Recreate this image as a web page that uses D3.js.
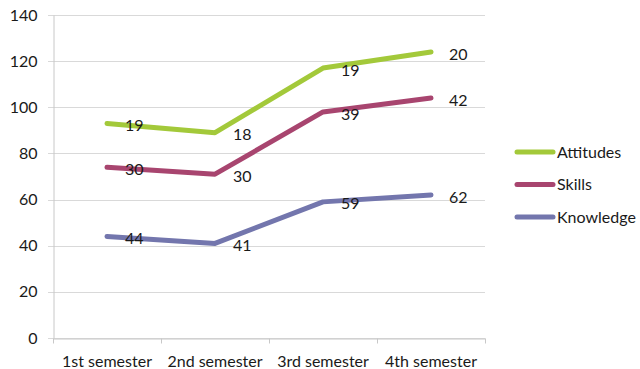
<!DOCTYPE html>
<html>
<head>
<meta charset="utf-8">
<script src="https://cdn.jsdelivr.net/npm/d3@7"></script>
<style>
  html, body { margin: 0; padding: 0; background: #fff; }
  svg { display: block; font-family: Lato, "Open Sans", sans-serif; }
</style>
</head>
<body>
<svg id="chart" width="640" height="369"></svg>
<script>
// Semesters along the x axis
const semesters = ["1st semester", "2nd semester", "3rd semester", "4th semester"];
// Series values per semester (stacked bottom to top: Knowledge, Skills, Attitudes)
const knowledge = [44, 41, 59, 62];
const skills = [30, 30, 39, 42];
const attitudes = [19, 18, 19, 20];
// Y axis ticks
const yTicks = [0, 20, 40, 60, 80, 100, 120, 140];

const seriesNames = ["Knowledge", "Skills", "Attitudes"];
const seriesColors = { Knowledge: "#7376ad", Skills: "#a8456f", Attitudes: "#a3c93a" };
const legendOrder = ["Attitudes", "Skills", "Knowledge"];

const rows = semesters.map((s, i) => ({
  semester: s,
  Knowledge: knowledge[i],
  Skills: skills[i],
  Attitudes: attitudes[i]
}));

const stacked = d3.stack().keys(seriesNames)(rows);

const svg = d3.select("#chart");
const plot = { left: 53, right: 485, top: 15, bottom: 338 };

const x = d3.scaleBand().domain(semesters).range([plot.left, plot.right]).padding(0);
const y = d3.scaleLinear().domain([0, 140]).range([plot.bottom, plot.top]);
const cx = s => x(s) + x.bandwidth() / 2;

// Horizontal gridlines
svg.append("g")
  .selectAll("line")
  .data(yTicks)
  .join("line")
  .attr("x1", plot.left - 5)
  .attr("x2", plot.right)
  .attr("y1", d => Math.round(y(d)) + 0.5)
  .attr("y2", d => Math.round(y(d)) + 0.5)
  .attr("stroke", "#d9d9d9")
  .attr("stroke-width", 1);

// Y axis
const yAxis = svg.append("g")
  .attr("transform", `translate(${plot.left + 0.5},0)`)
  .call(d3.axisLeft(y).tickValues(yTicks).tickSize(0).tickPadding(16));
yAxis.select(".domain").attr("stroke", "#c8c8c8");
yAxis.selectAll("text").attr("font-size", 16).attr("fill", "#1a1a1a")
  .attr("font-family", "Lato, sans-serif");

// X axis with tick marks at band edges
const xAxis = svg.append("g")
  .attr("transform", `translate(0,${Math.round(plot.bottom) + 0.5})`)
  .call(d3.axisBottom(x).tickSize(0).tickPadding(17));
xAxis.select(".domain").attr("stroke", "#c8c8c8");
xAxis.selectAll("text").attr("font-size", 16).attr("fill", "#1a1a1a")
  .attr("font-family", "Lato, sans-serif");
xAxis.append("g")
  .selectAll("line")
  .data(semesters.map(s => x(s) + x.bandwidth()).concat([plot.left]))
  .join("line")
  .attr("x1", d => Math.round(d) + 0.5)
  .attr("x2", d => Math.round(d) + 0.5)
  .attr("y1", 0)
  .attr("y2", 5)
  .attr("stroke", "#c8c8c8");

// Stacked lines
const line = d3.line()
  .x(d => cx(d.data.semester))
  .y(d => y(d[1]));

const layer = svg.append("g")
  .selectAll("g")
  .data(stacked)
  .join("g");

layer.append("path")
  .attr("d", d => line(d))
  .attr("fill", "none")
  .attr("stroke", d => seriesColors[d.key])
  .attr("stroke-width", 5)
  .attr("stroke-linecap", "round")
  .attr("stroke-linejoin", "round");

// Data labels showing each series' own value
layer.selectAll("text")
  .data(d => d.map(p => ({ p, key: d.key })))
  .join("text")
  .attr("x", d => cx(d.p.data.semester) + 18)
  .attr("y", d => y(d.p[1]) + 2)
  .attr("dy", "0.35em")
  .attr("font-size", 16)
  .attr("fill", "#1a1a1a")
  .text(d => d.p.data[d.key]);

// Legend
const legend = svg.append("g")
  .selectAll("g")
  .data(legendOrder)
  .join("g")
  .attr("transform", (d, i) => `translate(517,${152 + i * 32.5})`);

legend.append("line")
  .attr("x1", 0).attr("x2", 36)
  .attr("y1", 0).attr("y2", 0)
  .attr("stroke", d => seriesColors[d])
  .attr("stroke-width", 5)
  .attr("stroke-linecap", "round");

legend.append("text")
  .attr("x", 40)
  .attr("y", 0)
  .attr("dy", "0.35em")
  .attr("font-size", 16)
  .attr("fill", "#1a1a1a")
  .text(d => d);
</script>
</body>
</html>
